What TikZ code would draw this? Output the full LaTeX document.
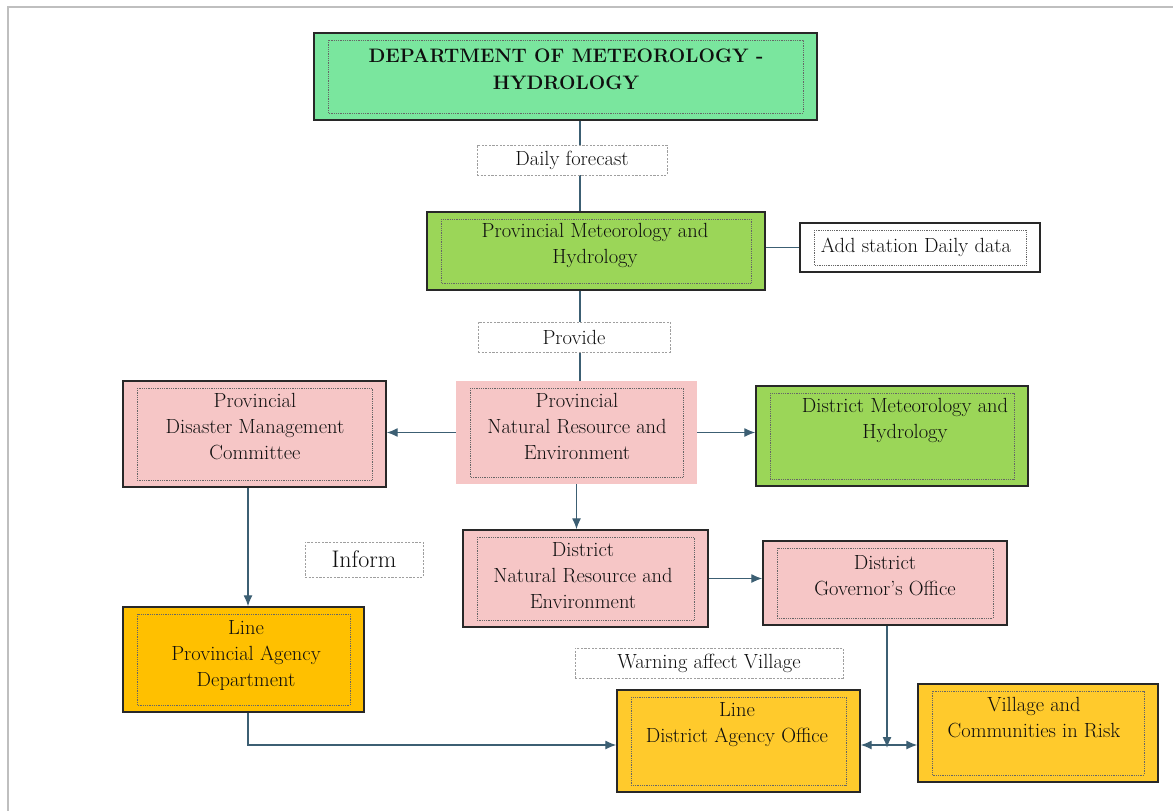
\documentclass[tikz,border=0pt]{standalone}
\usetikzlibrary{arrows.meta}
\definecolor{deptgreen}{RGB}{122,230,158}
\definecolor{metgreen}{RGB}{155,214,88}
\definecolor{pinkfill}{RGB}{246,198,198}
\definecolor{amberA}{RGB}{255,192,0}
\definecolor{amberB}{RGB}{255,202,44}
\definecolor{linecol}{RGB}{60,95,115}
\definecolor{edgecol}{RGB}{40,40,40}
\definecolor{txtcol}{RGB}{15,15,15}
\tikzset{
  inset/.style={path picture={\draw[densely dotted, gray!80!black, line width=0.8pt]
      ([shift={(14pt,-7pt)}]path picture bounding box.north west) rectangle
      ([shift={(-14pt,7pt)}]path picture bounding box.south east);}},
  box/.style={draw=edgecol, line width=1.4pt, inset, inner sep=0pt},
  softbox/.style={inset, inner sep=0pt},
  tagbox/.style={draw=gray!75, line width=0.8pt, dash pattern=on 2.2pt off 1.4pt, inner sep=0pt, fill=white},
  txt/.style={font=\fontsize{20.5}{26}\selectfont, text=txtcol, align=center, inner sep=0pt},
  conn/.style={draw=linecol, line width=1.3pt},
  arr/.style={conn, -{Latex[length=11pt,width=9pt]}},
}
\begin{document}
\begin{tikzpicture}[x=1pt,y=-1pt]
\useasboundingbox (0,0) rectangle (1173,811);
\draw[gray!50, line width=1.2pt] (8,811) -- (8,7) -- (1173,7);

% guide coordinates
\coordinate (vline) at (580,0);
\coordinate (leftv) at (248,0);
\coordinate (bottomline) at (0,745);
\coordinate (govx) at (887,0);
\coordinate (j) at (887,745);

% boxes
\node[box, fill=deptgreen, minimum width=503pt, minimum height=87pt] (dept) at (565.5,76.5) {};
\node[box, fill=metgreen, minimum width=338pt, minimum height=78pt] (provmet) at (596,251) {};
\node[box, fill=white, minimum width=240pt, minimum height=49pt] (addst) at (920,247.5) {};
\node[softbox, fill=pinkfill, minimum width=241pt, minimum height=103pt] (pnre) at (576.5,432.5) {};
\node[box, fill=pinkfill, minimum width=263pt, minimum height=106pt] (pdmc) at (254.5,434) {};
\node[box, fill=metgreen, minimum width=272pt, minimum height=100pt] (dmet) at (892,436) {};
\node[box, fill=pinkfill, minimum width=245pt, minimum height=97pt] (dnre) at (585.5,578.5) {};
\node[box, fill=pinkfill, minimum width=244pt, minimum height=84pt] (gov) at (885,583) {};
\node[box, fill=amberA, minimum width=241pt, minimum height=105pt] (lpa) at (243.5,659.5) {};
\node[box, fill=amberB, minimum width=243pt, minimum height=102pt] (lda) at (738.5,741) {};
\node[box, fill=amberB, minimum width=240pt, minimum height=98pt] (vill) at (1038,733) {};

% connectors
\draw[conn] (dept.south -| vline) -- (provmet.north -| vline);
\draw[conn] (provmet.south -| vline) -- (pnre.north -| vline);
\draw[conn] (provmet.east |- addst.west) -- (addst.west);
\draw[arr] (pnre.west) -- (pdmc.east |- pnre.west);
\draw[arr] (pnre.east) -- (dmet.west |- pnre.east);
\draw[arr] (pnre.south) -- (dnre.north -| pnre.south);
\draw[arr] (dnre.east) -- (gov.west |- dnre.east);
\draw[arr] (pdmc.south -| leftv) -- (lpa.north -| leftv);
\draw[arr] (lpa.south -| leftv) |- (lda.west |- bottomline);
\draw[arr] (gov.south -| govx) -- ([yshift=-3pt]j);
\draw[arr] (j) -- (lda.east |- j);
\draw[arr] (j) -- (vill.west |- j);

% tag boxes (drawn over the lines)
\node[tagbox, minimum width=190pt, minimum height=30pt] (daily) at (572,160) {};
\node[tagbox, minimum width=192pt, minimum height=30pt] (provide) at (574,337) {};
\node[tagbox, minimum width=118pt, minimum height=35pt] (inform) at (364,559.5) {};
\node[tagbox, minimum width=268pt, minimum height=30pt] (warn) at (709,663) {};

% texts
\node[txt, font=\fontsize{19.5}{27}\selectfont\bfseries] (dept-t) at (566,69) {DEPARTMENT OF METEOROLOGY -\\HYDROLOGY};
\node[txt] (daily-t) at (daily.center) {Daily forecast};
\node[txt] (provmet-t) at (595,245) {Provincial Meteorology and\\Hydrology};
\node[txt] (addst-t) at (916,247) {Add station Daily data};
\node[txt] (provide-t) at (provide.center) {Provide};
\node[txt] (pnre-t) at (577,426) {Provincial\\Natural Resource and\\Environment};
\node[txt] (pdmc-t) at (255,427) {Provincial\\Disaster Management\\Committee};
\node[txt] (dmet-t) at (905,420) {District Meteorology and\\Hydrology};
\node[txt] (dnre-t) at (583,576) {District\\Natural Resource and\\Environment};
\node[txt] (gov-t) at (885,576) {District\\Governor's Office};
\node[txt, font=\fontsize{24}{30}\selectfont] (inform-t) at (inform.center) {Inform};
\node[txt] (lpa-t) at (246,655) {Line\\Provincial Agency\\Department};
\node[txt] (warn-t) at (warn.center) {Warning affect Village};
\node[txt] (lda-t) at (737,725) {Line\\District Agency Office};
\node[txt] (vill-t) at (1034,718) {Village and\\Communities in Risk};
\end{tikzpicture}
\end{document}
